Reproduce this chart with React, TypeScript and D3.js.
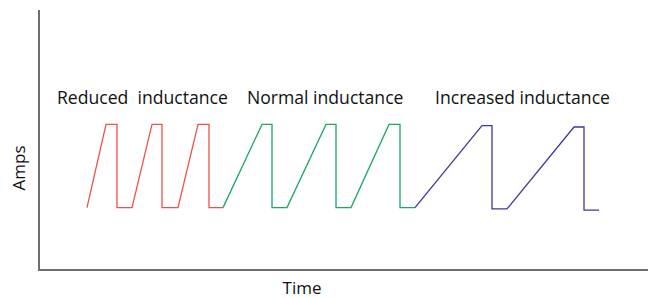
import React from 'react';
import * as d3 from 'd3';

// time (arbitrary units) and current (amps) for each waveform
const reducedTime = [48, 67, 78, 78, 93, 113, 123, 123, 139, 159, 170, 170, 184];
const reducedAmps = [2.4, 5.6, 5.6, 2.4, 2.4, 5.6, 5.6, 2.4, 2.4, 5.6, 5.6, 2.4, 2.4];

const normalTime = [184, 223, 233, 233, 248, 287, 297, 297, 312, 350, 361, 361, 376];
const normalAmps = [2.4, 5.6, 5.6, 2.4, 2.4, 5.6, 5.6, 2.4, 2.4, 5.6, 5.6, 2.4, 2.4];

const increasedTime = [376, 443, 453, 453, 468, 535, 545, 545, 560];
const increasedAmps = [2.4, 5.55, 5.55, 2.35, 2.35, 5.5, 5.5, 2.3, 2.3];

const labels = ['Reduced  inductance', 'Normal inductance', 'Increased inductance'];
const labelTime = [18, 208, 396];
const labelAmps = 6.38;

const colors = ['#f0504a', '#1aa862', '#3a3a9e'];

const W = 649;
const H = 298;

export default function App() {
  const x = d3.scaleLinear().domain([0, 609]).range([39, 648]);
  const y = d3.scaleLinear().domain([0, 10]).range([270, 10]);

  const series = [
    { t: reducedTime, a: reducedAmps },
    { t: normalTime, a: normalAmps },
    { t: increasedTime, a: increasedAmps },
  ];

  const line = d3.line<[number, number]>()
    .x(d => x(d[0]))
    .y(d => y(d[1]));

  const font = '"Open Sans", sans-serif';

  return (
    <svg width={W} height={H} style={{ position: 'absolute', left: 0, top: 0, background: '#fff' }}>
      {/* axes */}
      <line x1={x(0)} y1={y(10)} x2={x(0)} y2={y(0) + 1} stroke="#6e6e6e" strokeWidth={2} />
      <line x1={x(0) - 1} y1={y(0)} x2={x(609)} y2={y(0)} stroke="#6e6e6e" strokeWidth={2} />

      {series.map((s, i) => (
        <path
          key={i}
          d={line(s.t.map((t, j) => [t, s.a[j]] as [number, number])) || ''}
          fill="none"
          stroke={colors[i]}
          strokeWidth={1.3}
        />
      ))}

      {labels.map((l, i) => (
        <text
          key={l}
          x={x(labelTime[i])}
          y={y(labelAmps)}
          fontFamily={font}
          fontSize={17.6}
          fill="#111"
          style={{ whiteSpace: 'pre' }}
        >
          {l}
        </text>
      ))}

      <text
        transform={`translate(25,168) rotate(-90)`}
        textAnchor="middle"
        fontFamily={font}
        fontSize={17}
        fill="#111"
      >
        Amps
      </text>
      <text x={302} y={294} textAnchor="middle" fontFamily={font} fontSize={17} fill="#111">
        Time
      </text>
    </svg>
  );
}
